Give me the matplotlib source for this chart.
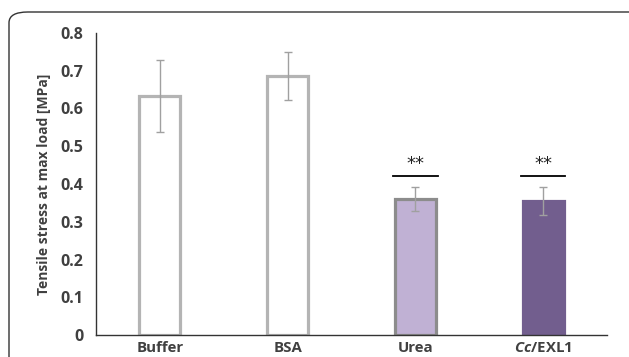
import matplotlib.pyplot as plt
from matplotlib.patches import FancyBboxPatch

categories = ['Buffer', 'BSA', 'Urea', 'EXL1']
values = [0.634, 0.686, 0.360, 0.355]
errors = [0.095, 0.063, 0.032, 0.038]
fills = ['white', 'white', '#c0b1d4', '#725e8e']
edges = ['#b4b4b4', '#b4b4b4', '#8c8c8c', '#725e8e']
sig_bars = [2, 3]
sig_level = 0.422

plt.rcParams['font.family'] = ['Open Sans', 'DejaVu Sans']
plt.rcParams['mathtext.fontset'] = 'custom'
plt.rcParams['mathtext.bfit'] = 'Open Sans:italic:bold'
txt = '#404040'

fig = plt.figure(figsize=(6.29, 3.57), dpi=100)

# rounded frame around the panel
frame = FancyBboxPatch((9 / 629, -0.2), 640 / 629, 1.2 - 12 / 357,
                       boxstyle='round,pad=0,rounding_size=0.03',
                       transform=fig.transFigure, fill=False,
                       edgecolor='#333333', lw=1.0)
fig.patches.append(frame)

ax = fig.add_axes([96 / 629, 1 - 335 / 357, 511 / 629, 302 / 357])
x = range(len(categories))
ax.bar(x, values, width=0.32, color=fills, edgecolor=edges, linewidth=2.3)
ax.errorbar(x, values, yerr=errors, fmt='none', ecolor='#a0a0a0',
            elinewidth=1.0, capsize=3, capthick=1.0)

for i in sig_bars:
    ax.plot([i - 0.175, i + 0.175], [sig_level, sig_level], color='black', lw=1.3)
    ax.text(i, sig_level + 0.008, '**', ha='center', va='bottom',
            fontsize=13, color='#222222', family='DejaVu Sans')

ax.set_xlim(-0.5, 3.5)
ax.set_ylim(0, 0.8)
ax.set_yticks([0, 0.1, 0.2, 0.3, 0.4, 0.5, 0.6, 0.7, 0.8])
ax.set_yticklabels(['0', '0.1', '0.2', '0.3', '0.4', '0.5', '0.6', '0.7', '0.8'],
                   fontsize=11.5, fontweight='bold', color=txt)
ax.set_xticks(list(x))
ax.set_xticklabels(['Buffer', 'BSA', 'Urea', r'$\mathbfit{Cc}$/EXL1'],
                   fontsize=10.8, fontweight='bold', color=txt)
ax.tick_params(length=0, pad=9)
ax.tick_params(axis='x', pad=4)
ax.set_ylabel('Tensile stress at max load [MPa]', fontsize=10,
              fontweight='bold', color=txt, labelpad=7)
for s in ['top', 'right']:
    ax.spines[s].set_visible(False)
for s in ['left', 'bottom']:
    ax.spines[s].set_color('#333333')
    ax.spines[s].set_linewidth(1.0)

fig.savefig('out.png', dpi=100)
